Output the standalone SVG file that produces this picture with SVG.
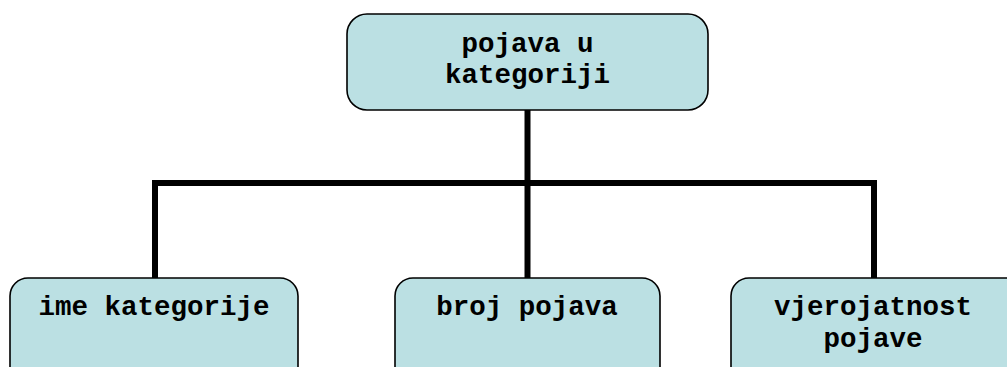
<svg xmlns="http://www.w3.org/2000/svg" width="1007" height="367" viewBox="0 0 1007 367">
  <style>
    .box { fill: #bbe0e3; stroke: #000; stroke-width: 1.6; }
    .lbl { font-family: "Liberation Mono", "Courier New", monospace; font-weight: bold; font-size: 27.5px; fill: #000; text-anchor: middle; }
    .wire { fill: none; stroke: #000; stroke-width: 6; stroke-linejoin: miter; }
  </style>
  <rect width="1007" height="367" fill="#fff"/>
  <g id="connectors">
    <path class="wire" d="M527.5,110 V183"/>
    <path class="wire" d="M155,278 V183 H874 V278"/>
    <path class="wire" d="M527.5,183 V278"/>
  </g>
  <g id="node-root">
    <rect class="box" x="347" y="14" width="361" height="96" rx="20" ry="20"/>
    <text class="lbl" x="527.5" y="52">pojava u</text>
    <text class="lbl" x="527.5" y="83">kategoriji</text>
  </g>
  <g id="node-ime">
    <rect class="box" x="10" y="278" width="288" height="110" rx="18" ry="18"/>
    <text class="lbl" x="154" y="315">ime kategorije</text>
  </g>
  <g id="node-broj">
    <rect class="box" x="395" y="278" width="265" height="110" rx="18" ry="18"/>
    <text class="lbl" x="527" y="315">broj pojava</text>
  </g>
  <g id="node-vjerojatnost">
    <rect class="box" x="731" y="278" width="300" height="110" rx="18" ry="18"/>
    <text class="lbl" x="873" y="315">vjerojatnost</text>
    <text class="lbl" x="873" y="347">pojave</text>
  </g>
</svg>
